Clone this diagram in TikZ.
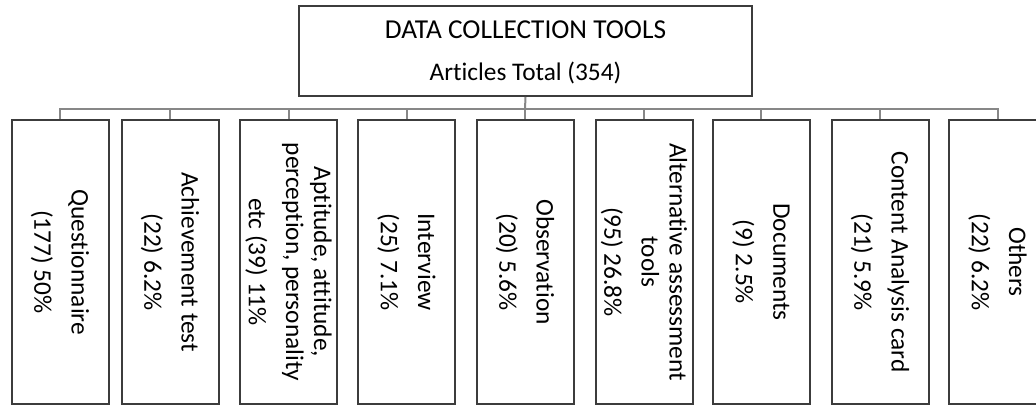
\documentclass[tikz,border=0pt]{standalone}
\usepackage{fontspec}
\setmainfont{Carlito}[Ligatures=NoCommon]
\tikzset{every picture/.style={line width=0.75pt}}
\tikzset{
  toolbox/.style={draw={rgb,255:red,60;green,60;blue,60}, line width=1.5pt, rotate=-90,
    minimum width=213pt, minimum height=72.75pt, inner sep=0pt, align=center,
    font=\fontsize{19}{21}\selectfont},
  headbox/.style={draw={rgb,255:red,60;green,60;blue,60}, line width=1.5pt,
    minimum width=339.75pt, minimum height=67.5pt, inner sep=0pt, align=center,
    font=\fontsize{19}{21}\selectfont},
  linkline/.style={draw={rgb,255:red,135;green,135;blue,135}, line width=1.5pt}
}

\begin{document}
\begin{tikzpicture}[x=0.75pt,y=0.75pt,yscale=-1,xscale=1]
\useasboundingbox (0,0) rectangle (1036,406);
%Shape: Rectangle [head]
\node [headbox] (tools) at (525.5,51) {{\fontsize{20.5}{21}\selectfont\rule{0pt}{15pt}DATA COLLECTION TOOLS}\\[10.5pt]Articles Total (354)};

%Shape: Rectangle [tools]
\node [toolbox] (quest) at (60,262) {Questionnaire\\[7pt](177) 50\%};
\node [toolbox] (achieve) at (170,262) {Achievement test\\[7pt](22) 6.2\%};
\node [toolbox] (aptitude) at (288.5,262) {Aptitude, attitude,\\perception, personality\\[7pt]etc (39) 11\%};
\node [toolbox] (interview) at (406.5,262) {Interview\\[7pt](25) 7.1\%};
\node [toolbox] (observ) at (525,262) {Observation\\[7pt](20) 5.6\%};
\node [toolbox] (altern) at (644,262) {Alternative assessment\\tools\\[7pt](95) 26.8\%};
\node [toolbox] (docs) at (761,262) {Documents\\[7pt](9) 2.5\%};
\node [toolbox] (content) at (880,262) {Content Analysis card\\[7pt](21) 5.9\%};
\node [toolbox] (others) at (997.5,262) {Others\\[7pt](22) 6.2\%};

%Straight Lines [bus]
\coordinate (bus) at (525,109);
\draw [linkline] (tools.south) -- (bus);
\draw [linkline] (quest.west) |- (others.west |- bus) -- (others.west);
\foreach \n in {achieve,aptitude,interview,observ,altern,docs,content}
  \draw [linkline] (\n.west) -- (\n.west |- bus);

\end{tikzpicture}
\end{document}
